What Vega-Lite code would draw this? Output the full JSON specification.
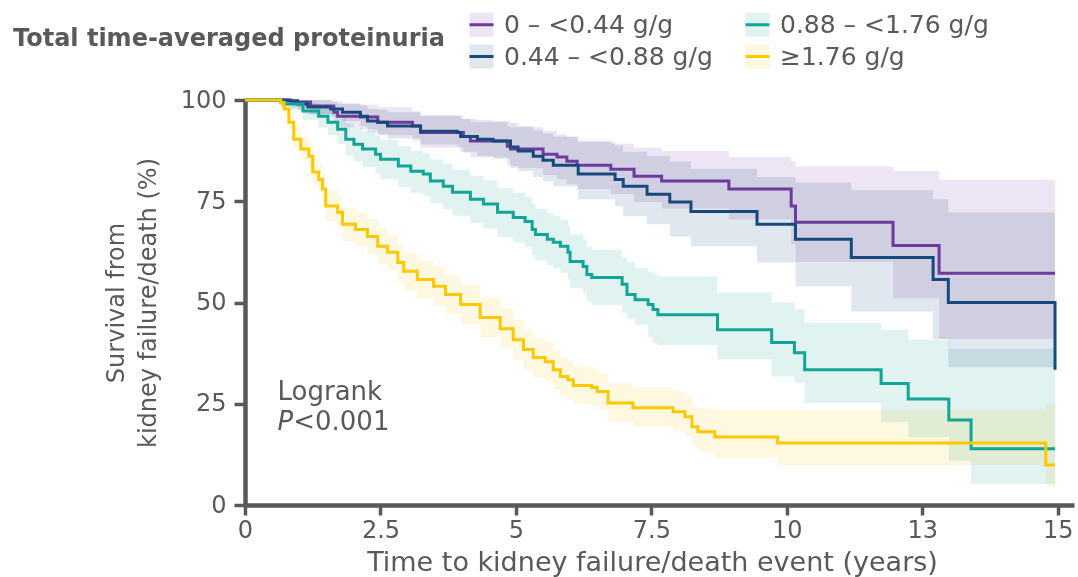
{
  "$schema": "https://vega.github.io/schema/vega-lite/v6.json",
  "width": 829,
  "height": 405,
  "autosize": "none",
  "padding": {"left": 245, "top": 100, "right": 4, "bottom": 72},
  "background": "white",
  "config": {
    "view": {"stroke": null},
    "font": "DejaVu Sans",
    "axis": {
      "grid": false,
      "domainColor": "#595959",
      "domainWidth": 4.5,
      "tickColor": "#595959",
      "tickWidth": 3.5,
      "labelColor": "#595959",
      "titleColor": "#595959",
      "labelFont": "DejaVu Sans",
      "titleFont": "DejaVu Sans",
      "titleFontWeight": "normal"
    }
  },
  "datasets": {
    "km": [
      {"i":1,"g":"0 – <0.44 g/g","t":0,"s":100,"lo":100,"hi":100},
      {"i":2,"g":"0 – <0.44 g/g","t":0.85,"s":99.5,"lo":98,"hi":100},
      {"i":3,"g":"0 – <0.44 g/g","t":1.21,"s":98.5,"lo":96.5,"hi":100},
      {"i":4,"g":"0 – <0.44 g/g","t":1.64,"s":97,"lo":94.5,"hi":99.5},
      {"i":5,"g":"0 – <0.44 g/g","t":1.71,"s":96,"lo":93.3,"hi":99},
      {"i":6,"g":"0 – <0.44 g/g","t":2.13,"s":95.8,"lo":92.8,"hi":98.8},
      {"i":7,"g":"0 – <0.44 g/g","t":2.45,"s":94.5,"lo":91.3,"hi":98.2},
      {"i":8,"g":"0 – <0.44 g/g","t":3.09,"s":93.6,"lo":90,"hi":97.2},
      {"i":9,"g":"0 – <0.44 g/g","t":3.24,"s":92,"lo":88.2,"hi":96.2},
      {"i":10,"g":"0 – <0.44 g/g","t":4.03,"s":91,"lo":87,"hi":95.3},
      {"i":11,"g":"0 – <0.44 g/g","t":4.16,"s":89.9,"lo":85.8,"hi":94.5},
      {"i":12,"g":"0 – <0.44 g/g","t":4.84,"s":88.6,"lo":84,"hi":93.5},
      {"i":13,"g":"0 – <0.44 g/g","t":4.9,"s":87.9,"lo":83.2,"hi":93.3},
      {"i":14,"g":"0 – <0.44 g/g","t":5.5,"s":86.6,"lo":81.5,"hi":92.4},
      {"i":15,"g":"0 – <0.44 g/g","t":5.76,"s":85.9,"lo":80.5,"hi":91.5},
      {"i":16,"g":"0 – <0.44 g/g","t":5.94,"s":84.9,"lo":79.2,"hi":90.8},
      {"i":17,"g":"0 – <0.44 g/g","t":6.13,"s":83.9,"lo":78,"hi":90},
      {"i":18,"g":"0 – <0.44 g/g","t":6.75,"s":82.9,"lo":76.8,"hi":89.2},
      {"i":19,"g":"0 – <0.44 g/g","t":7.18,"s":81.2,"lo":74.8,"hi":88.2},
      {"i":20,"g":"0 – <0.44 g/g","t":7.69,"s":80,"lo":73.2,"hi":87.4},
      {"i":21,"g":"0 – <0.44 g/g","t":8.93,"s":78,"lo":70.5,"hi":85.9},
      {"i":22,"g":"0 – <0.44 g/g","t":10.08,"s":73.8,"lo":64.5,"hi":84.9},
      {"i":23,"g":"0 – <0.44 g/g","t":10.16,"s":69.8,"lo":60,"hi":83.6},
      {"i":24,"g":"0 – <0.44 g/g","t":11.96,"s":64.1,"lo":51,"hi":82.5},
      {"i":25,"g":"0 – <0.44 g/g","t":12.81,"s":57.2,"lo":41,"hi":80.4},
      {"i":26,"g":"0 – <0.44 g/g","t":14.95,"s":57.2,"lo":41,"hi":80.4},

      {"i":101,"g":"0.44 – <0.88 g/g","t":0,"s":100,"lo":100,"hi":100},
      {"i":102,"g":"0.44 – <0.88 g/g","t":0.79,"s":99.8,"lo":99,"hi":100},
      {"i":103,"g":"0.44 – <0.88 g/g","t":0.97,"s":99,"lo":97.5,"hi":100},
      {"i":104,"g":"0.44 – <0.88 g/g","t":1.16,"s":98.3,"lo":96.5,"hi":100},
      {"i":105,"g":"0.44 – <0.88 g/g","t":1.58,"s":97.8,"lo":95.8,"hi":99.6},
      {"i":106,"g":"0.44 – <0.88 g/g","t":1.8,"s":97,"lo":94.8,"hi":99.2},
      {"i":107,"g":"0.44 – <0.88 g/g","t":2.13,"s":96,"lo":93.5,"hi":98.7},
      {"i":108,"g":"0.44 – <0.88 g/g","t":2.26,"s":94.8,"lo":92,"hi":97.8},
      {"i":109,"g":"0.44 – <0.88 g/g","t":2.45,"s":94.5,"lo":91.6,"hi":97.6},
      {"i":110,"g":"0.44 – <0.88 g/g","t":2.63,"s":93.6,"lo":90.5,"hi":97},
      {"i":111,"g":"0.44 – <0.88 g/g","t":3.24,"s":92.3,"lo":89,"hi":96.2},
      {"i":112,"g":"0.44 – <0.88 g/g","t":3.92,"s":92,"lo":88.5,"hi":96},
      {"i":113,"g":"0.44 – <0.88 g/g","t":3.98,"s":91,"lo":87.2,"hi":95.3},
      {"i":114,"g":"0.44 – <0.88 g/g","t":4.29,"s":90.3,"lo":86.2,"hi":95},
      {"i":115,"g":"0.44 – <0.88 g/g","t":4.58,"s":89.9,"lo":85.5,"hi":94.8},
      {"i":116,"g":"0.44 – <0.88 g/g","t":4.9,"s":88.4,"lo":83.7,"hi":94.3},
      {"i":117,"g":"0.44 – <0.88 g/g","t":5.04,"s":87.4,"lo":82.5,"hi":93.5},
      {"i":118,"g":"0.44 – <0.88 g/g","t":5.32,"s":86.1,"lo":81,"hi":92.5},
      {"i":119,"g":"0.44 – <0.88 g/g","t":5.5,"s":85.1,"lo":80,"hi":91.8},
      {"i":120,"g":"0.44 – <0.88 g/g","t":5.69,"s":83.9,"lo":78.7,"hi":91},
      {"i":121,"g":"0.44 – <0.88 g/g","t":6.15,"s":81.7,"lo":75.5,"hi":89.6},
      {"i":122,"g":"0.44 – <0.88 g/g","t":6.83,"s":80.4,"lo":73.8,"hi":88.7},
      {"i":123,"g":"0.44 – <0.88 g/g","t":6.98,"s":78.7,"lo":71.3,"hi":87.2},
      {"i":124,"g":"0.44 – <0.88 g/g","t":7.42,"s":76.7,"lo":69.3,"hi":86.2},
      {"i":125,"g":"0.44 – <0.88 g/g","t":7.84,"s":74.8,"lo":66.3,"hi":84.8},
      {"i":126,"g":"0.44 – <0.88 g/g","t":8.23,"s":72.5,"lo":63.9,"hi":83},
      {"i":127,"g":"0.44 – <0.88 g/g","t":9.45,"s":69.3,"lo":59.9,"hi":81},
      {"i":128,"g":"0.44 – <0.88 g/g","t":10.16,"s":65.6,"lo":54,"hi":79.6},
      {"i":129,"g":"0.44 – <0.88 g/g","t":11.19,"s":61.1,"lo":47.8,"hi":77.7},
      {"i":130,"g":"0.44 – <0.88 g/g","t":12.7,"s":55.7,"lo":41,"hi":75.5},
      {"i":131,"g":"0.44 – <0.88 g/g","t":12.98,"s":50,"lo":34,"hi":72.3},
      {"i":132,"g":"0.44 – <0.88 g/g","t":14.95,"s":50,"lo":34,"hi":72.3},
      {"i":133,"g":"0.44 – <0.88 g/g","t":14.95,"s":33.4,"lo":34,"hi":72.3},

      {"i":201,"g":"0.88 – <1.76 g/g","t":0,"s":100,"lo":100,"hi":100},
      {"i":202,"g":"0.88 – <1.76 g/g","t":0.66,"s":99.5,"lo":98.3,"hi":100},
      {"i":203,"g":"0.88 – <1.76 g/g","t":0.72,"s":99,"lo":97.5,"hi":100},
      {"i":204,"g":"0.88 – <1.76 g/g","t":1.07,"s":97.3,"lo":95,"hi":99.3},
      {"i":205,"g":"0.88 – <1.76 g/g","t":1.36,"s":96,"lo":93.2,"hi":98.5},
      {"i":206,"g":"0.88 – <1.76 g/g","t":1.53,"s":94.5,"lo":91.3,"hi":97.5},
      {"i":207,"g":"0.88 – <1.76 g/g","t":1.71,"s":92.8,"lo":89.2,"hi":96.2},
      {"i":208,"g":"0.88 – <1.76 g/g","t":1.86,"s":90.3,"lo":86.3,"hi":94.2},
      {"i":209,"g":"0.88 – <1.76 g/g","t":2.01,"s":89.1,"lo":84.8,"hi":93.2},
      {"i":210,"g":"0.88 – <1.76 g/g","t":2.17,"s":87.9,"lo":83.4,"hi":92.2},
      {"i":211,"g":"0.88 – <1.76 g/g","t":2.41,"s":86.6,"lo":81.9,"hi":91.2},
      {"i":212,"g":"0.88 – <1.76 g/g","t":2.5,"s":85.4,"lo":80.5,"hi":90.2},
      {"i":213,"g":"0.88 – <1.76 g/g","t":2.83,"s":83.7,"lo":78.6,"hi":88.6},
      {"i":214,"g":"0.88 – <1.76 g/g","t":3.06,"s":82.4,"lo":77.1,"hi":87.5},
      {"i":215,"g":"0.88 – <1.76 g/g","t":3.29,"s":81.7,"lo":76.3,"hi":86.8},
      {"i":216,"g":"0.88 – <1.76 g/g","t":3.42,"s":80,"lo":74.5,"hi":85.3},
      {"i":217,"g":"0.88 – <1.76 g/g","t":3.66,"s":78.7,"lo":73,"hi":84.2},
      {"i":218,"g":"0.88 – <1.76 g/g","t":3.83,"s":77.2,"lo":71.4,"hi":82.8},
      {"i":219,"g":"0.88 – <1.76 g/g","t":4.16,"s":75.5,"lo":69.6,"hi":81.3},
      {"i":220,"g":"0.88 – <1.76 g/g","t":4.4,"s":74.3,"lo":68.3,"hi":80.2},
      {"i":221,"g":"0.88 – <1.76 g/g","t":4.66,"s":72.3,"lo":66.2,"hi":78.3},
      {"i":222,"g":"0.88 – <1.76 g/g","t":4.95,"s":71,"lo":64.8,"hi":77.1},
      {"i":223,"g":"0.88 – <1.76 g/g","t":5.17,"s":70,"lo":63.7,"hi":76.1},
      {"i":224,"g":"0.88 – <1.76 g/g","t":5.3,"s":68,"lo":61.6,"hi":74.3},
      {"i":225,"g":"0.88 – <1.76 g/g","t":5.36,"s":66.8,"lo":60.4,"hi":73.2},
      {"i":226,"g":"0.88 – <1.76 g/g","t":5.58,"s":65.6,"lo":59.2,"hi":72.1},
      {"i":227,"g":"0.88 – <1.76 g/g","t":5.69,"s":64.9,"lo":58.5,"hi":71.4},
      {"i":228,"g":"0.88 – <1.76 g/g","t":5.82,"s":63.9,"lo":57.4,"hi":70.4},
      {"i":229,"g":"0.88 – <1.76 g/g","t":5.96,"s":62.4,"lo":55.8,"hi":69},
      {"i":230,"g":"0.88 – <1.76 g/g","t":6.0,"s":60.1,"lo":53.5,"hi":66.8},
      {"i":231,"g":"0.88 – <1.76 g/g","t":6.24,"s":58.9,"lo":52.2,"hi":65.6},
      {"i":232,"g":"0.88 – <1.76 g/g","t":6.31,"s":56.9,"lo":50.2,"hi":63.7},
      {"i":233,"g":"0.88 – <1.76 g/g","t":6.4,"s":56.2,"lo":49.4,"hi":63},
      {"i":234,"g":"0.88 – <1.76 g/g","t":6.96,"s":54.5,"lo":47.5,"hi":61},
      {"i":235,"g":"0.88 – <1.76 g/g","t":7.05,"s":52,"lo":46,"hi":60},
      {"i":236,"g":"0.88 – <1.76 g/g","t":7.2,"s":50.7,"lo":44.5,"hi":58.5},
      {"i":237,"g":"0.88 – <1.76 g/g","t":7.44,"s":49.5,"lo":41.5,"hi":57.5},
      {"i":238,"g":"0.88 – <1.76 g/g","t":7.53,"s":48.3,"lo":40,"hi":57},
      {"i":239,"g":"0.88 – <1.76 g/g","t":7.62,"s":47,"lo":39.5,"hi":56.4},
      {"i":240,"g":"0.88 – <1.76 g/g","t":8.72,"s":43.3,"lo":35.9,"hi":52.5},
      {"i":241,"g":"0.88 – <1.76 g/g","t":9.72,"s":40.1,"lo":31.7,"hi":50},
      {"i":242,"g":"0.88 – <1.76 g/g","t":10.14,"s":37.6,"lo":30.2,"hi":48.3},
      {"i":243,"g":"0.88 – <1.76 g/g","t":10.33,"s":33.4,"lo":25.2,"hi":45},
      {"i":244,"g":"0.88 – <1.76 g/g","t":11.74,"s":30,"lo":20.5,"hi":43.3},
      {"i":245,"g":"0.88 – <1.76 g/g","t":12.24,"s":26.2,"lo":16.8,"hi":40.8},
      {"i":246,"g":"0.88 – <1.76 g/g","t":12.99,"s":21,"lo":11,"hi":38.6},
      {"i":247,"g":"0.88 – <1.76 g/g","t":13.4,"s":13.9,"lo":5.2,"hi":38.6},
      {"i":248,"g":"0.88 – <1.76 g/g","t":14.95,"s":13.9,"lo":5.2,"hi":38.6},

      {"i":301,"g":"≥1.76 g/g","t":0,"s":100,"lo":100,"hi":100},
      {"i":302,"g":"≥1.76 g/g","t":0.66,"s":99.3,"lo":98.5,"hi":100},
      {"i":303,"g":"≥1.76 g/g","t":0.72,"s":97.8,"lo":96.5,"hi":99.5},
      {"i":304,"g":"≥1.76 g/g","t":0.81,"s":94.5,"lo":92.5,"hi":97},
      {"i":305,"g":"≥1.76 g/g","t":0.9,"s":90.3,"lo":88,"hi":93.5},
      {"i":306,"g":"≥1.76 g/g","t":1.03,"s":87.9,"lo":85,"hi":91},
      {"i":307,"g":"≥1.76 g/g","t":1.18,"s":86.1,"lo":83,"hi":89.5},
      {"i":308,"g":"≥1.76 g/g","t":1.25,"s":82.2,"lo":79,"hi":86},
      {"i":309,"g":"≥1.76 g/g","t":1.36,"s":80.4,"lo":77,"hi":84.2},
      {"i":310,"g":"≥1.76 g/g","t":1.43,"s":78,"lo":74.5,"hi":82},
      {"i":311,"g":"≥1.76 g/g","t":1.49,"s":73.8,"lo":70,"hi":77.8},
      {"i":312,"g":"≥1.76 g/g","t":1.71,"s":72.3,"lo":68.4,"hi":76.3},
      {"i":313,"g":"≥1.76 g/g","t":1.8,"s":69.3,"lo":65.2,"hi":73.4},
      {"i":314,"g":"≥1.76 g/g","t":2.04,"s":68,"lo":63.8,"hi":72.2},
      {"i":315,"g":"≥1.76 g/g","t":2.26,"s":66.3,"lo":62,"hi":70.6},
      {"i":316,"g":"≥1.76 g/g","t":2.45,"s":63.9,"lo":59.5,"hi":68.3},
      {"i":317,"g":"≥1.76 g/g","t":2.63,"s":62.4,"lo":58,"hi":66.8},
      {"i":318,"g":"≥1.76 g/g","t":2.82,"s":59.9,"lo":55.3,"hi":64.4},
      {"i":319,"g":"≥1.76 g/g","t":2.93,"s":57.7,"lo":53,"hi":62.3},
      {"i":320,"g":"≥1.76 g/g","t":3.18,"s":55.7,"lo":51,"hi":60.4},
      {"i":321,"g":"≥1.76 g/g","t":3.48,"s":54,"lo":49.2,"hi":58.8},
      {"i":322,"g":"≥1.76 g/g","t":3.7,"s":52,"lo":47.2,"hi":56.8},
      {"i":323,"g":"≥1.76 g/g","t":3.98,"s":49.5,"lo":44.6,"hi":54.4},
      {"i":324,"g":"≥1.76 g/g","t":4.34,"s":46.3,"lo":41.5,"hi":51.2},
      {"i":325,"g":"≥1.76 g/g","t":4.71,"s":43.5,"lo":38.6,"hi":48.5},
      {"i":326,"g":"≥1.76 g/g","t":4.95,"s":40.8,"lo":36,"hi":45.8},
      {"i":327,"g":"≥1.76 g/g","t":5.14,"s":38.4,"lo":33.6,"hi":43.3},
      {"i":328,"g":"≥1.76 g/g","t":5.32,"s":36.4,"lo":31.6,"hi":41.3},
      {"i":329,"g":"≥1.76 g/g","t":5.54,"s":35.4,"lo":30.6,"hi":40.3},
      {"i":330,"g":"≥1.76 g/g","t":5.69,"s":33.4,"lo":28.6,"hi":38.3},
      {"i":331,"g":"≥1.76 g/g","t":5.82,"s":31.7,"lo":27,"hi":36.5},
      {"i":332,"g":"≥1.76 g/g","t":5.96,"s":30.9,"lo":26.2,"hi":35.7},
      {"i":333,"g":"≥1.76 g/g","t":6.06,"s":29.5,"lo":25,"hi":34.2},
      {"i":334,"g":"≥1.76 g/g","t":6.4,"s":29,"lo":24.5,"hi":33.7},
      {"i":335,"g":"≥1.76 g/g","t":6.5,"s":28,"lo":23.5,"hi":32.6},
      {"i":336,"g":"≥1.76 g/g","t":6.7,"s":25.2,"lo":20.5,"hi":30},
      {"i":337,"g":"≥1.76 g/g","t":7.16,"s":24,"lo":19.3,"hi":29},
      {"i":338,"g":"≥1.76 g/g","t":7.9,"s":23,"lo":18.3,"hi":28},
      {"i":339,"g":"≥1.76 g/g","t":8.12,"s":21.8,"lo":17,"hi":26.8},
      {"i":340,"g":"≥1.76 g/g","t":8.25,"s":19.3,"lo":14.5,"hi":24.5},
      {"i":341,"g":"≥1.76 g/g","t":8.36,"s":18.1,"lo":13.3,"hi":23.8},
      {"i":342,"g":"≥1.76 g/g","t":8.67,"s":16.8,"lo":11.8,"hi":23.5},
      {"i":343,"g":"≥1.76 g/g","t":9.83,"s":15.3,"lo":9.9,"hi":23.5},
      {"i":344,"g":"≥1.76 g/g","t":14.78,"s":9.9,"lo":4.5,"hi":25},
      {"i":345,"g":"≥1.76 g/g","t":14.95,"s":9.9,"lo":4.5,"hi":25}
    ]
  },
  "layer": [
    {
      "data": {"name": "km"},
      "mark": {"type": "area", "interpolate": "step-after", "blend": "multiply"},
      "encoding": {
        "x": {
          "field": "t", "type": "quantitative",
          "scale": {"domain": [0, 15.3], "nice": false, "zero": false},
          "axis": {
            "values": [0, 2.5, 5, 7.5, 10, 12.5, 15],
            "format": "~g",
            "title": "Time to kidney failure/death event (years)",
            "titleFontSize": 27,
            "titlePadding": 7,
            "titleX": 407,
            "labelFontSize": 24,
            "labelPadding": 3,
            "tickSize": 10,
            "labelFlush": false
          }
        },
        "y": {
          "field": "lo", "type": "quantitative",
          "scale": {"domain": [0, 100], "nice": false},
          "axis": {
            "values": [0, 25, 50, 75, 100],
            "title": ["Survival from", "kidney failure/death (%)"],
            "titleFontSize": 24,
            "titleLineHeight": 32,
            "titlePadding": 20,
            "labelFontSize": 24,
            "labelPadding": 8,
            "tickSize": 11
          }
        },
        "y2": {"field": "hi"},
        "fill": {
          "field": "g", "type": "nominal",
          "scale": {
            "domain": ["0 – <0.44 g/g", "0.44 – <0.88 g/g", "0.88 – <1.76 g/g", "≥1.76 g/g"],
            "range": ["#ede5f3", "#e0e7ee", "#e0f3f1", "#fff8e1"]
          },
          "legend": {
            "orient": "none",
            "legendX": -232,
            "legendY": -89,
            "columns": 2,
            "padding": 0,
            "title": ["Total time-averaged proteinuria", ""],
            "titleLineHeight": 8,
            "titleOrient": "left",
            "titleFontSize": 24,
            "titleFontWeight": "bold",
            "titleColor": "#595959",
            "titlePadding": 23,
            "titleAnchor": "middle",
            "titleBaseline": "middle",
            "titleLimit": 600,
            "labelFontSize": 25,
            "labelColor": "#595959",
            "labelOffset": 9,
            "labelLimit": 400,
            "symbolType": "M-1,0L1,0L1,1L-1,1L-1,-1L1,-1L1,0Z",
            "symbolSize": 576,
            "symbolStrokeWidth": 3,
            "symbolDash": [24, 2000],
            "rowPadding": -6,
            "columnPadding": 26,
            "encode": {
              "symbols": {"update": {"stroke": {"scale": "stroke", "field": "value"}}}
            }
          }
        }
      }
    },
    {
      "data": {"name": "km"},
      "mark": {"type": "line", "interpolate": "step-after", "strokeWidth": 3},
      "encoding": {
        "x": {"field": "t", "type": "quantitative"},
        "y": {"field": "s", "type": "quantitative"},
        "stroke": {
          "field": "g", "type": "nominal",
          "scale": {
            "domain": ["0 – <0.44 g/g", "0.44 – <0.88 g/g", "0.88 – <1.76 g/g", "≥1.76 g/g"],
            "range": ["#6f3aa0", "#174a7c", "#12a494", "#fdc800"]
          },
          "legend": null
        },
        "order": {"field": "i", "type": "quantitative"}
      }
    },
    {
      "data": {"values": [{"label": "Logrank"}]},
      "mark": {"type": "text", "align": "left", "baseline": "alphabetic", "fontSize": 26, "color": "#595959", "font": "DejaVu Sans"},
      "encoding": {
        "x": {"datum": 0.6, "type": "quantitative"},
        "y": {"datum": 26, "type": "quantitative"},
        "text": {"field": "label"}
      }
    },
    {
      "data": {"values": [{"label": "P"}]},
      "mark": {"type": "text", "align": "left", "baseline": "alphabetic", "fontSize": 26, "fontStyle": "italic", "color": "#595959", "font": "DejaVu Sans"},
      "encoding": {
        "x": {"datum": 0.6, "type": "quantitative"},
        "y": {"datum": 18.6, "type": "quantitative"},
        "text": {"field": "label"}
      }
    },
    {
      "data": {"values": [{"label": "<0.001"}]},
      "mark": {"type": "text", "align": "left", "baseline": "alphabetic", "fontSize": 26, "color": "#595959", "font": "DejaVu Sans"},
      "encoding": {
        "x": {"datum": 0.89, "type": "quantitative"},
        "y": {"datum": 18.6, "type": "quantitative"},
        "text": {"field": "label"}
      }
    }
  ]
}
